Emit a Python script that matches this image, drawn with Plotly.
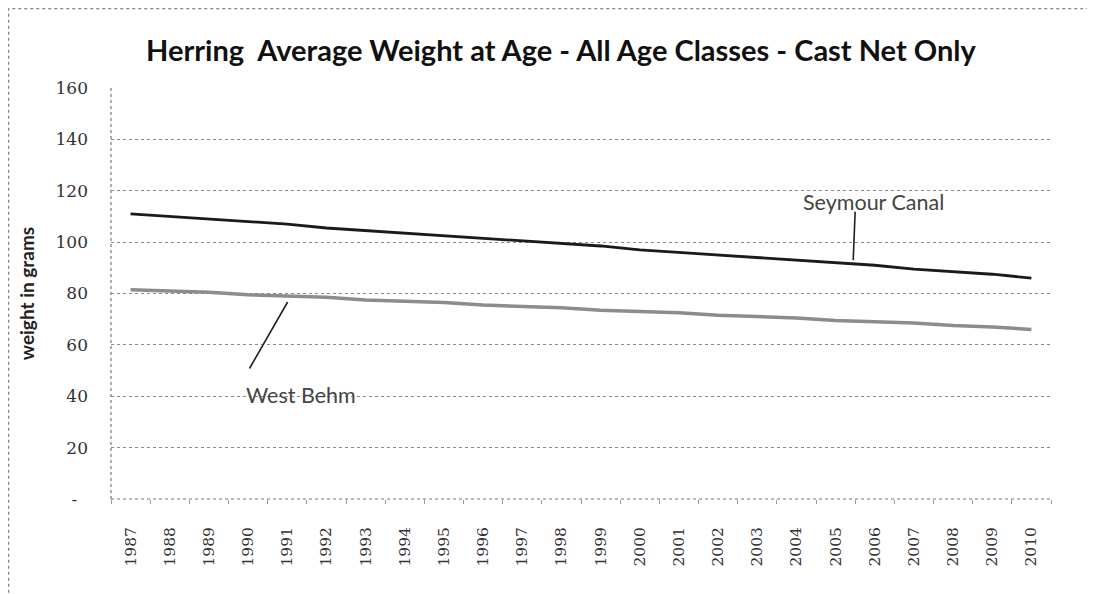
import plotly.graph_objects as go

years = [str(y) for y in range(1987, 2011)]
seymour_canal = [111, 110, 109, 108, 107, 105.5, 104.5, 103.5, 102.5, 101.5, 100.5, 99.5,
                 98.5, 97, 96, 95, 94, 93, 92, 91, 89.5, 88.5, 87.5, 86]
west_behm = [81.5, 81, 80.5, 79.5, 79, 78.5, 77.5, 77, 76.5, 75.5, 75, 74.5,
             73.5, 73, 72.5, 71.5, 71, 70.5, 69.5, 69, 68.5, 67.5, 67, 66]
y_ticks = [0, 20, 40, 60, 80, 100, 120, 140, 160]
y_tick_text = ["-\u00a0\u00a0", "20", "40", "60", "80", "100", "120", "140", "160"]

fig = go.Figure()
fig.add_trace(go.Scatter(x=years, y=west_behm, mode="lines", name="West Behm",
                         line=dict(color="#8c8c8c", width=3.5)))
fig.add_trace(go.Scatter(x=years, y=seymour_canal, mode="lines", name="Seymour Canal",
                         line=dict(color="#1a1a1a", width=2.8)))

fig.update_layout(
    width=1087, height=586,
    margin=dict(l=103, r=44, t=80, b=95),
    paper_bgcolor="white", plot_bgcolor="white",
    showlegend=False,
    title=dict(text="<b>Herring  Average Weight at Age - All Age Classes - Cast Net Only</b>",
               font=dict(family="Lato", size=29, color="#111"),
               xref="container", yref="container", x=0.5087, y=0.9266,
               xanchor="center", yanchor="middle"),
    xaxis=dict(type="category", range=[-0.5, 23.5], showgrid=False, showline=False,
               ticks="outside", ticklen=4, tickcolor="#999", tickson="boundaries",
               tickangle=-90, tickfont=dict(family="DejaVu Serif", size=15.5, color="#333"),
               ticklabelstandoff=24, zeroline=False, automargin=False),
    yaxis=dict(range=[0, 160], tickvals=y_ticks, ticktext=y_tick_text,
               showgrid=True, gridcolor="#8a8a8a", griddash="dot", gridwidth=1,
               showline=False, zeroline=False,
               tickfont=dict(family="DejaVu Serif", size=17, color="#333"),
               ticklabelstandoff=22, automargin=False,
               title=dict(text="<b>weight in grams</b>",
                          font=dict(family="Lato", size=19, color="#222"),
                          standoff=15)),
    shapes=[
        dict(type="line", xref="paper", yref="paper", x0=0, x1=1, y0=0, y1=0,
             line=dict(color="#777", width=1.2, dash="dot")),
        dict(type="line", xref="paper", yref="paper", x0=0, x1=0, y0=0, y1=1,
             line=dict(color="#777", width=1.2, dash="dot")),
        dict(type="rect", xref="paper", yref="paper", x0=-0.109, x1=1.1,
             y0=-0.3, y1=1.1934, line=dict(color="#888", width=1.5, dash="dot"),
             layer="below"),
    ],
    annotations=[
        dict(x=18.96, y=115.6, xref="x", yref="y", text="Seymour Canal", showarrow=False,
             font=dict(family="Lato", size=21.5, color="#444")),
        dict(x=18.45, y=93.0, xref="x", yref="y", text="", showarrow=True,
             ax=2, ay=-50, arrowhead=0, arrowwidth=1.6, arrowcolor="#222", standoff=0),
        dict(x=4.34, y=40.5, xref="x", yref="y", text="West Behm", showarrow=False,
             font=dict(family="Lato", size=21.5, color="#444")),
        dict(x=4.01, y=76.7, xref="x", yref="y", text="", showarrow=True,
             ax=-39, ay=68, arrowhead=0, arrowwidth=1.6, arrowcolor="#222", standoff=0),
    ],
)

fig.write_html("out.html")
